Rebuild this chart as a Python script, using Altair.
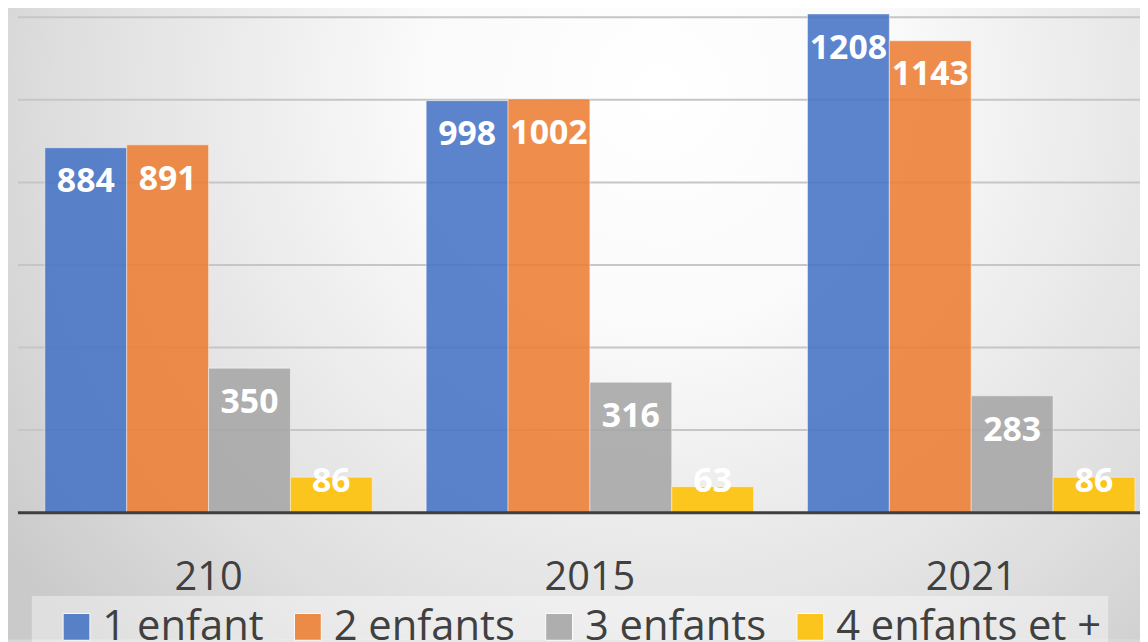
import altair as alt
import pandas as pd

years = ["210", "2015", "2021"]
series = ["1 enfant", "2 enfants", "3 enfants", "4 enfants et +"]
colors = ["#4472C4", "#ED7D31", "#A5A5A5", "#FFC000"]
v_1 = [884, 998, 1208]
v_2 = [891, 1002, 1143]
v_3 = [350, 316, 283]
v_4 = [86, 63, 86]
grid_ticks = [200, 400, 600, 800, 1000, 1200]

rows = []
for s, vals in zip(series, [v_1, v_2, v_3, v_4]):
    for y, v in zip(years, vals):
        rows.append({"year": y, "series": s, "value": v})
df = pd.DataFrame(rows)

W, H = 1130, 506
YDOM = [0, 1217]
FONT = "Open Sans"

yscale = alt.Scale(domain=YDOM, nice=False, zero=True)
xenc = alt.X(
    "year:N",
    sort=years,
    scale=alt.Scale(range=[0, 1152], paddingInner=54 / 382, paddingOuter=27 / 382),
    axis=alt.Axis(
        title=None, domain=False, ticks=False, labelAngle=0,
        labelFont=FONT, labelFontSize=40, labelColor="#404040",
        labelPadding=45, grid=False, zindex=1,
    ),
)
xoff = alt.XOffset("series:N", sort=series,
                   scale=alt.Scale(paddingInner=0, paddingOuter=0))

bg = alt.Chart(alt.Data(values=[{}])).mark_rect(
    fill=alt.Gradient(
        gradient="radial",
        stops=[
            alt.GradientStop(color="#ffffff", offset=0),
            alt.GradientStop(color="#fafafa", offset=0.3),
            alt.GradientStop(color="#dedede", offset=0.75),
            alt.GradientStop(color="#cacaca", offset=1),
        ],
        x1=0.57, y1=0.3, r1=0, x2=0.57, y2=0.3, r2=0.7,
    )
).encode(x=alt.value(-10), x2=alt.value(1140), y=alt.value(-8), y2=alt.value(634))

grid = alt.Chart(pd.DataFrame({"t": grid_ticks})).mark_rule(
    color="#c6c6c6", strokeWidth=2
).encode(
    y=alt.Y("t:Q", scale=yscale, axis=None),
    x=alt.value(0), x2=alt.value(W),
)

bars = alt.Chart(df).mark_bar(
    fillOpacity=0.87, stroke="#ffffff", strokeOpacity=0.45, strokeWidth=1
).encode(
    x=xenc,
    xOffset=xoff,
    y=alt.Y("value:Q", scale=yscale, axis=None),
    color=alt.Color(
        "series:N", sort=series,
        scale=alt.Scale(domain=series, range=colors),
        legend=alt.Legend(
            title=None, orient="none", legendX=38, legendY=600,
            direction="horizontal", columns=4,
            labelFont=FONT, labelFontSize=42, labelColor="#404040",
            labelLimit=400, labelOffset=5, columnPadding=23,
            symbolType="square", symbolSize=729, symbolOpacity=0.87,
            symbolStrokeColor="#ffffff", symbolStrokeWidth=1,
        ),
    ),
)

labels = alt.Chart(df).transform_calculate(
    ly="max(datum.value, 159)"
).mark_text(
    font=FONT, fontSize=34, fontWeight="bold", color="#ffffff",
    baseline="middle", align="center", dy=35,
).encode(
    x=xenc,
    xOffset=xoff,
    y=alt.Y("ly:Q", scale=yscale, axis=None),
    text=alt.Text("value:Q"),
)

baseline = alt.Chart(alt.Data(values=[{}])).mark_rule(
    color="#3f3f3f", strokeWidth=3
).encode(
    y=alt.datum(0, scale=yscale),
    x=alt.value(0), x2=alt.value(W),
)

legend_box = alt.Chart(alt.Data(values=[{}])).mark_rect(
    fill="#ffffff", opacity=0.4
).encode(x=alt.value(14), x2=alt.value(1098), y=alt.value(590), y2=alt.value(640))

chart = alt.layer(bg, grid, legend_box, bars, labels, baseline).properties(
    width=W, height=H,
    autosize=alt.AutoSizeParams(type="none"),
    padding={"left": 10, "top": 0, "right": 0, "bottom": 128},
).configure_view(stroke=None).configure(background="#d8d8d8")

chart.save("out.html", embed_options={"renderer": "svg", "actions": False})
